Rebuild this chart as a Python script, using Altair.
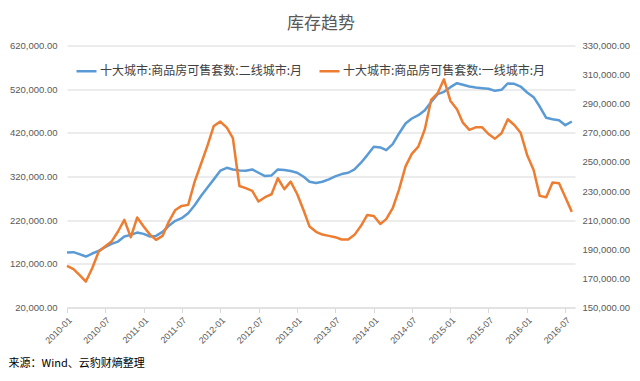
import altair as alt
import pandas as pd

# Monthly categories: 2010-01 .. 2016-08
months = [f"{y}-{m:02d}-01" for y in range(2010, 2017) for m in range(1, 13)][:80]

# 十大城市:商品房可售套数:二线城市:月 (left axis)
tier2 = [
    145900, 146800, 142200, 136700, 143600, 149700, 158200, 165800, 171000, 182500,
    186400, 191600, 188600, 182500, 184000, 193200, 207000, 218400, 224500, 236000,
    254000, 275300, 295000, 313400, 333200, 340000, 336200, 334000, 333200, 336200,
    328600, 321000, 322500, 336200, 334700, 332400, 328600, 319500, 308000, 305000,
    308000, 313400, 320200, 325600, 328600, 336200, 351500, 369000, 388000, 386500,
    380400, 394000, 418500, 441300, 452800, 460400, 471800, 490800, 508500, 513900,
    524600, 533700, 530000, 526000, 523800, 522300, 520800, 516200, 518500, 533000,
    532200, 526000, 512400, 501700, 480300, 454400, 451300, 449000, 437600, 446000,
]

# 十大城市:商品房可售套数:一线城市:月 (right axis)
tier1 = [
    178600, 176300, 172400, 167800, 177000, 188400, 191900, 195300, 202200, 210200,
    198300, 211800, 205600, 199900, 196500, 199200, 209000, 217000, 219800, 220500,
    236500, 248600, 261200, 274700, 277700, 273600, 266300, 233500, 232000, 230100,
    222800, 225800, 227800, 238800, 231300, 236500, 228000, 216600, 205600, 202000,
    200100, 199200, 198300, 196700, 196700, 199900, 206100, 213600, 212900, 207400,
    210700, 218200, 231000, 247000, 255500, 260500, 272500, 292600, 297200, 306800,
    291900, 286200, 277000, 272000, 273800, 273800, 269200, 266000, 269700, 279300,
    275400, 270100, 254800, 244500, 226700, 225800, 235800, 235400, 225800, 215700,
]

s2 = "十大城市:商品房可售套数:二线城市:月"
s1 = "十大城市:商品房可售套数:一线城市:月"
left_ticks = [20000, 120000, 220000, 320000, 420000, 520000, 620000]
right_ticks = [150000, 170000, 190000, 210000, 230000, 250000, 270000, 290000, 310000, 330000]
x_ticks = [(y, m) for y in range(2010, 2017) for m in (1, 7)]

CJK = "Noto Sans CJK SC"
NUM = "Liberation Sans"
GRAY = "#595959"

df2 = pd.DataFrame({"date": months, "value": tier2, "series": s2})
df1 = pd.DataFrame({"date": months, "value": tier1, "series": s1})

color = alt.Color(
    "series:N",
    scale=alt.Scale(domain=[s2, s1], range=["#5B9BD5", "#ED7D31"]),
    legend=alt.Legend(
        title=None, orient="none", legendX=8, legendY=14, direction="horizontal",
        symbolType="stroke", symbolSize=400, symbolStrokeWidth=2.5,
        labelFont=CJK, labelFontSize=12, labelColor="#404040", labelLimit=400,
        columnPadding=11, labelOffset=2, padding=0,
    ),
)

x = alt.X(
    "date:T",
    scale=alt.Scale(
        type="utc",
        domain=[alt.DateTime(year=2010, month=1, date=1, utc=True),
                alt.DateTime(year=2016, month=8, date=16, utc=True)],
    ),
    axis=alt.Axis(
        values=[alt.DateTime(year=y, month=m, date=1, utc=True) for y, m in x_ticks],
        format="%Y-%m", labelAngle=-45, labelFont=NUM, labelFontSize=9,
        labelColor=GRAY, labelPadding=3, grid=False,
        domainColor="#D9D9D9", tickColor="#D9D9D9", tickSize=5,
        title="来源：Wind、云豹财熵整理", titleX=-59, titleY=59,
        titleAlign="left", titleAnchor="start", titleBaseline="alphabetic",
        titleFont=CJK, titleFontSize=11, titleFontWeight="normal", titleColor="#000000",
    ),
)

blue = alt.Chart(df2).mark_line(strokeWidth=2.5, strokeJoin="round").encode(
    x=x,
    y=alt.Y(
        "value:Q",
        scale=alt.Scale(domain=[20000, 620000], nice=False, zero=False),
        axis=alt.Axis(
            values=left_ticks, format=",.2f", grid=True, gridColor="#D9D9D9",
            domain=False, ticks=False, labelFont=NUM, labelFontSize=9.5,
            labelColor=GRAY, labelPadding=10, title=None,
        ),
    ),
    color=color,
)

orange = alt.Chart(df1).mark_line(strokeWidth=2.5, strokeJoin="round").encode(
    x=x,
    y=alt.Y(
        "value:Q",
        scale=alt.Scale(domain=[150000, 330000], nice=False, zero=False),
        axis=alt.Axis(
            orient="right", values=right_ticks, format=",.2f", grid=False,
            domain=False, ticks=False, labelFont=NUM, labelFontSize=9.5,
            labelColor=GRAY, labelPadding=7, title=None,
        ),
    ),
    color=color,
)

chart = (
    alt.layer(blue, orange)
    .resolve_scale(y="independent")
    .properties(
        width=508,
        height=262,
        padding={"left": 59, "top": 37.5, "right": 57, "bottom": 62.5},
        autosize=alt.AutoSizeParams(type="none"),
        title=alt.TitleParams(
            "库存趋势", font=CJK, fontSize=17, fontWeight="normal",
            color=GRAY, anchor="middle", offset=8,
        ),
    )
    .configure_view(stroke=None)
)

chart.save("out.html", embed_options={"renderer": "svg", "actions": False})
